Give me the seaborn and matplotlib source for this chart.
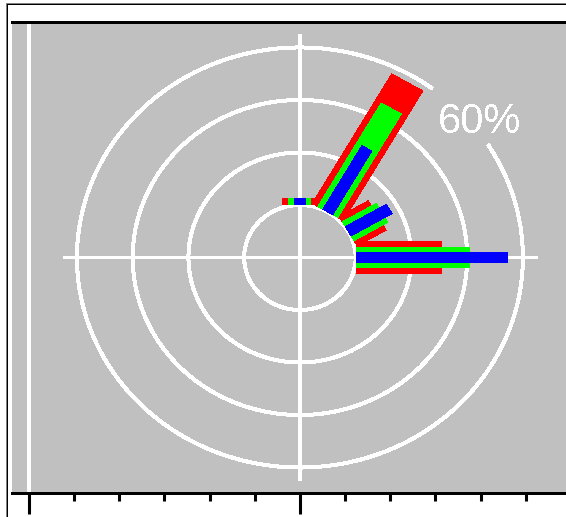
import numpy as np
import seaborn as sns
import matplotlib
matplotlib.use("Agg")
import matplotlib.pyplot as plt
from matplotlib.lines import Line2D

# wind rose: 12 sectors, percent per speed class
directions = [0, 30, 60, 90, 120, 150, 180, 210, 240, 270, 300, 330]
red_pct = [2.5, 57.0, 12.0, 31.0, 0, 0, 0, 0, 0, 0, 0, 0]
green_pct = [2.5, 45.5, 14.0, 41.0, 0, 0, 0, 0, 0, 0, 0, 0]
blue_pct = [2.5, 28.0, 17.0, 54.5, 0, 0, 0, 0, 0, 0, 0, 0]
ring_pct = [0, 20, 40, 60]
ring_label = "60%"

CALM = 20.0  # radius of the calm circle, bars start here
series = [("#FF0000", red_pct, 12.9), ("#00FF00", green_pct, 8.3), ("#0000FF", blue_pct, 4.1)]

sns.set_theme(style="white", rc={"axes.facecolor": "#C0C0C0", "figure.facecolor": "white"})
plt.rcParams["font.family"] = ["Liberation Sans", "DejaVu Sans"]
plt.rcParams["text.antialiased"] = False

fig = plt.figure(figsize=(5.66, 5.17), dpi=100)
ax = fig.add_axes([12 / 566, (517 - 493) / 517, (570 - 12) / 566, (493 - 22.5) / 517])
ax.set_xlim(-103.3, 96.9)
ax.set_ylim(-89.7, 89.5)

px = 0.72  # one pixel in points
white = dict(color="white", antialiased=False, solid_capstyle="butt", zorder=2)

# full height line at the left major tick
ax.axvline(-97.2, lw=4 * px, **white)

# rings
th = np.linspace(0, 360, 721)
for p in ring_pct:
    r = CALM + p
    t = th
    if p == ring_pct[-1]:
        t = np.concatenate([th[th > 57], th[th < 37] + 360])
    ax.plot(r * np.sin(np.radians(t)), r * np.cos(np.radians(t)), lw=3 * px, **white)

# cross
rmax = CALM + ring_pct[-1] + 5
ax.plot([-rmax, rmax], [0, 0], lw=3 * px, **white)
ax.plot([0, 0], [-rmax, rmax], lw=4 * px, **white)

# bars, widest class first
for i, d in enumerate(directions):
    a = np.radians(d)
    u = np.array([np.sin(a), np.cos(a)])
    n = np.array([np.cos(a), -np.sin(a)])
    for color, vals, w in series:
        v = vals[i]
        if v <= 0:
            continue
        p0 = CALM * u
        p1 = (CALM + v) * u
        pts = np.array([p0 + n * w / 2, p1 + n * w / 2, p1 - n * w / 2, p0 - n * w / 2])
        ax.fill(pts[:, 0], pts[:, 1], color=color, lw=0, antialiased=False, zorder=3)

lab_t = np.radians(53.5)
ax.text((CALM + ring_pct[-1]) * np.sin(lab_t), (CALM + ring_pct[-1]) * np.cos(lab_t),
        ring_label, color="white", fontsize=30, ha="center", va="baseline", zorder=4)

# axis frame
for s in ["left", "right"]:
    ax.spines[s].set_visible(False)
for s in ["top", "bottom"]:
    ax.spines[s].set_color("black")
    ax.spines[s].set_linewidth(3 * px)
ax.set_yticks([])
ax.set_xticks([-97.2, 0])
ax.set_xticks(np.arange(-97.2, 97, 97.2 / 6), minor=True)
ax.tick_params(axis="x", which="major", direction="out", length=15, width=2.2,
               color="black", labelbottom=False, bottom=True)
ax.tick_params(axis="x", which="minor", direction="out", length=6, width=2.2,
               color="black", bottom=True)

# window border
fig.add_artist(Line2D([6 / 566, 6 / 566], [0, 1 - 3 / 517], transform=fig.transFigure,
                      color="#808080", lw=px, antialiased=False))
fig.add_artist(Line2D([6 / 566, 1], [1 - 3 / 517, 1 - 3 / 517], transform=fig.transFigure,
                      color="#808080", lw=px, antialiased=False))
fig.add_artist(Line2D([7 / 566, 7 / 566], [0, 1 - 4 / 517], transform=fig.transFigure,
                      color="black", lw=px, antialiased=False))
fig.add_artist(Line2D([7 / 566, 1], [1 - 4 / 517, 1 - 4 / 517], transform=fig.transFigure,
                      color="black", lw=px, antialiased=False))

fig.savefig("out.png", dpi=100)
